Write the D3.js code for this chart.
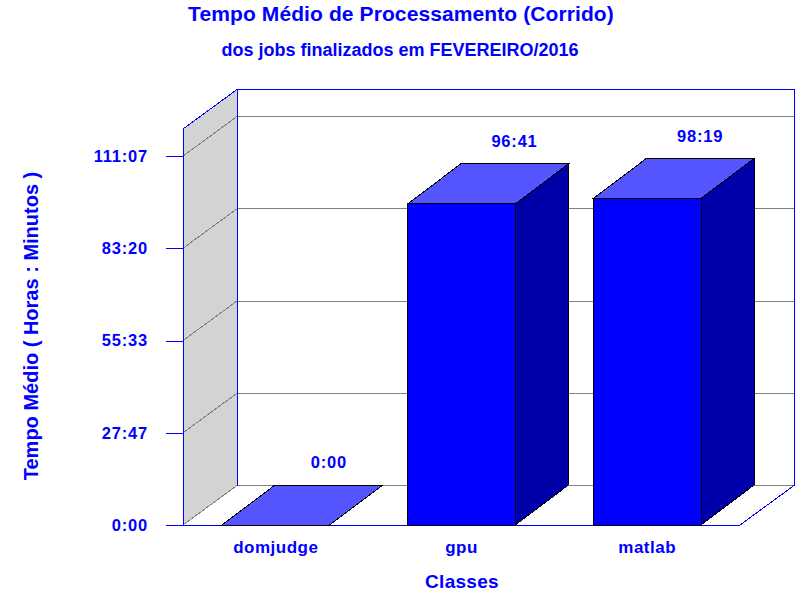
<!DOCTYPE html>
<html>
<head>
<meta charset="utf-8">
<script src="https://cdn.jsdelivr.net/npm/d3@7"></script>
<style>
  body { margin: 0; background: #fff; }
  text { font-family: "Liberation Sans", Arial, sans-serif; font-weight: bold; fill: #0000ff; }
  path, line, rect { shape-rendering: crispEdges; }
</style>
</head>
<body>
<div id="chart"></div>
<script>
// data (valores em segundos)
const classes = ["domjudge", "gpu", "matlab"];
const tempos = [0, 348060, 353940];          // 0:00, 96:41, 98:19
const yTicks = [0, 100000, 200000, 300000, 400000];
const yMax = 429300;

const titulo = "Tempo Médio de Processamento (Corrido)";
const subtitulo = "dos jobs finalizados em FEVEREIRO/2016";
const yTitulo = "Tempo Médio ( Horas : Minutos )";
const xTitulo = "Classes";

const width = 800, height = 600;
const pLeft = 183, pRight = 740, pBottom = 525, pTop = 129;
const dx = 54, dy = 39.5;       // profundidade 3d

// segundos -> H:MM
function hm(s) {
  var m = Math.round(s / 60);
  var h = Math.floor(m / 60);
  var mm = m % 60;
  return h + ":" + (mm < 10 ? "0" : "") + mm;
}

var svg = d3.select("#chart").append("svg")
    .attr("width", width)
    .attr("height", height);

var x = d3.scaleBand()
    .domain(classes)
    .range([pLeft, pRight])
    .paddingInner(0.42)
    .paddingOuter(0.21);

var y = d3.scaleLinear()
    .domain([0, yMax])
    .range([pBottom, pTop]);

// parede esquerda (cinza)
svg.append("path")
    .attr("d", `M${pLeft},${pTop}L${pLeft + dx},${pTop - dy}L${pLeft + dx},${pBottom - dy}L${pLeft},${pBottom}Z`)
    .attr("fill", "#d3d3d3");

// grade
var grid = svg.append("g").attr("stroke", "#808080").attr("stroke-width", 1).attr("fill", "none");
grid.selectAll(".diag")
  .data(yTicks)
  .join("line")
    .attr("class", "diag")
    .attr("x1", pLeft).attr("y1", d => y(d))
    .attr("x2", pLeft + dx).attr("y2", d => y(d) - dy);
grid.selectAll(".hor")
  .data(yTicks)
  .join("line")
    .attr("class", "hor")
    .attr("x1", pLeft + dx).attr("y1", d => y(d) - dy)
    .attr("x2", pRight + dx).attr("y2", d => y(d) - dy);

// bordas azuis
var bordas = svg.append("g").attr("stroke", "#0000ff").attr("stroke-width", 1).attr("fill", "none");
bordas.append("path")
    .attr("d", `M${pLeft},${pBottom}V${pTop}L${pLeft + dx},${pTop - dy}H${pRight + dx}V${pBottom - dy}`);
bordas.append("path")
    .attr("d", `M${pLeft + dx},${pTop - dy}V${pBottom - dy}`);
bordas.append("path")
    .attr("d", `M${pLeft - 17},${pBottom}H${pRight}L${pRight + dx},${pBottom - dy}`);

// eixo y
var yAxis = d3.axisLeft(y)
    .tickValues(yTicks)
    .tickSize(17)
    .tickPadding(18)
    .tickFormat(hm);

var gy = svg.append("g")
    .attr("transform", `translate(${pLeft},0)`)
    .call(yAxis)
    .call(g => g.select(".domain").remove());
gy.selectAll(".tick line").attr("stroke", "#0000ff");
gy.selectAll(".tick text")
    .attr("font-size", 16.5)
    .attr("letter-spacing", 0.8)
    .attr("font-family", null)
    .attr("fill", null)
    .attr("dy", "0.32em");

// barras 3d
var bdx = 53, bdy = 40;
var barras = svg.append("g")
  .selectAll("g")
  .data(classes.map((c, i) => ({c: c, v: tempos[i]})))
  .join("g");

barras.append("path")   // lado
    .attr("d", d => {
      var x1 = x(d.c) + x.bandwidth(), yt = y(d.v);
      return `M${x1},${pBottom}L${x1},${yt}L${x1 + bdx},${yt - bdy}L${x1 + bdx},${pBottom - bdy}Z`;
    })
    .attr("fill", "#0000aa")
    .attr("stroke", "#000");

barras.append("path")   // topo
    .attr("d", d => {
      var x0 = x(d.c), x1 = x0 + x.bandwidth(), yt = y(d.v);
      return `M${x0},${yt}L${x0 + bdx},${yt - bdy}L${x1 + bdx},${yt - bdy}L${x1},${yt}Z`;
    })
    .attr("fill", "#5555ff")
    .attr("stroke", "#000");

barras.filter(d => d.v > 0).append("rect")   // frente
    .attr("x", d => x(d.c))
    .attr("y", d => y(d.v))
    .attr("width", x.bandwidth())
    .attr("height", d => pBottom - y(d.v))
    .attr("fill", "#0000ff")
    .attr("stroke", "#000");

barras.append("text")
    .attr("x", d => x(d.c) + x.bandwidth() / 2 + bdx)
    .attr("y", d => y(d.v) - bdy - 17)
    .attr("text-anchor", "middle")
    .attr("font-size", 16.5)
    .attr("letter-spacing", 0.8)
    .text(d => hm(d.v));

// rotulos x
svg.append("g")
  .selectAll("text")
  .data(classes)
  .join("text")
    .attr("x", d => x(d) + x.bandwidth() / 2)
    .attr("y", 553)
    .attr("text-anchor", "middle")
    .attr("font-size", 17)
    .attr("letter-spacing", 0.5)
    .text(d => d);

// titulos
svg.append("text")
    .attr("x", 401).attr("y", 20.5)
    .attr("text-anchor", "middle")
    .attr("font-size", 21)
    .attr("letter-spacing", 0.1)
    .text(titulo);

svg.append("text")
    .attr("x", 400).attr("y", 56)
    .attr("text-anchor", "middle")
    .attr("font-size", 18)
    .text(subtitulo);

svg.append("text")
    .attr("x", 462).attr("y", 588)
    .attr("text-anchor", "middle")
    .attr("font-size", 19)
    .attr("letter-spacing", 0.3)
    .text(xTitulo);

svg.append("text")
    .attr("transform", "translate(38,326) rotate(-90)")
    .attr("text-anchor", "middle")
    .attr("font-size", 20)
    .text(yTitulo);
</script>
</body>
</html>
